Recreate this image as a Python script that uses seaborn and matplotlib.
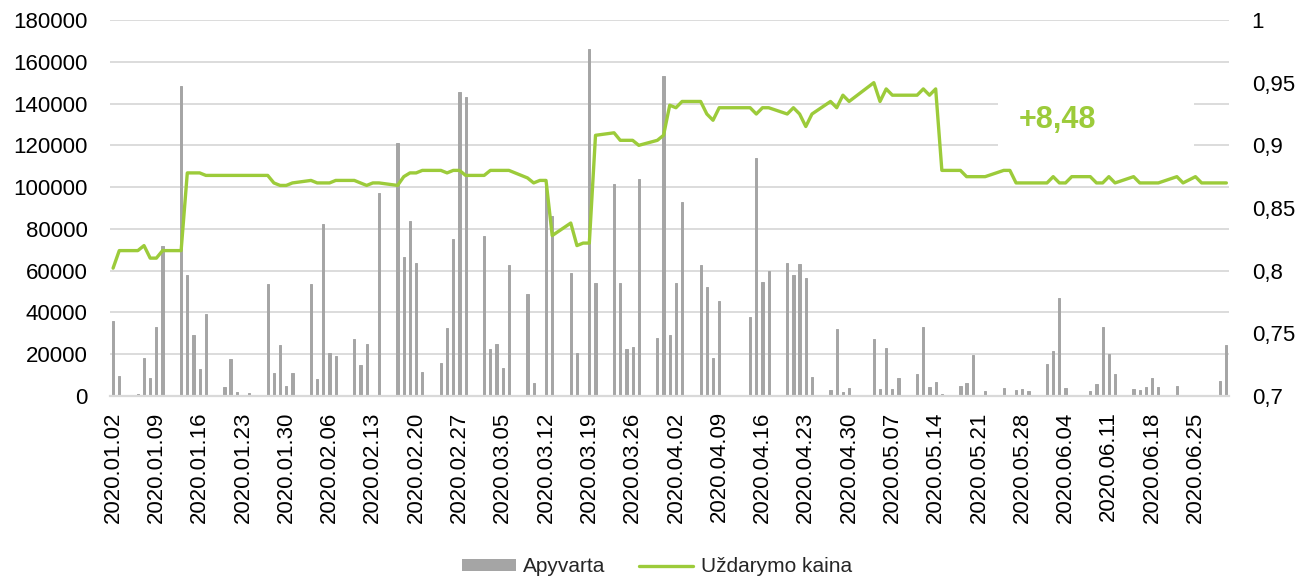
import numpy as np
import pandas as pd
import seaborn as sns
import matplotlib
matplotlib.use('Agg')
import matplotlib.pyplot as plt
import matplotlib.dates as mdates
from matplotlib.patches import Patch, Rectangle
from matplotlib.lines import Line2D
from matplotlib.ticker import FuncFormatter

# trading days: weekdays Jan 2 - Jun 30 2020 without exchange holidays
holidays = ['2020-04-10', '2020-04-13', '2020-05-01', '2020-06-24']
dates = pd.bdate_range('2020-01-02', '2020-06-30').drop(pd.to_datetime(holidays))

# Apyvarta (turnover), by month
vol_jan = [35700, 9800, 1000, 18100, 8400, 33000, 72000,
           148200, 57700, 29000, 12700, 39200,
           4500, 17600, 2100, 0, 1500,
           53400, 11200, 24600, 4900, 11100]
vol_feb = [53700, 7900, 82400, 20700, 19200,
           27400, 14900, 25000, 500, 97400,
           121200, 66400, 83700, 63800, 11700,
           15900, 32600, 75000, 145300, 143000]
vol_mar = [76500, 22700, 25000, 13500, 62500,
           48700, 6300, 0, 100500, 86400,
           58800, 20500, 0, 166200, 54200,
           101600, 54200, 22600, 23400, 104100,
           28000, 153400]
vol_apr = [29300, 54200, 93000,
           62500, 52400, 18000, 45400,
           37700, 113800, 54600, 60000,
           63600, 57700, 63000, 56700, 9300,
           3000, 32300, 1800, 3600]
vol_may = [27400, 3400, 23200, 3300, 8700,
           10600, 32800, 4500, 6600, 1000,
           5000, 6000, 19500, 0, 2600,
           3600, 600, 3000, 3400, 2600]
vol_jun = [15200, 21500, 46800, 3600, 0,
           2500, 5500, 33000, 19900, 10600,
           3400, 3000, 4500, 8700, 4400,
           4900, 0, 300, 500,
           7100, 24500]

# Uždarymo kaina (close price), by month
px_jan = [0.802, 0.816, 0.816, 0.820, 0.810, 0.810, 0.816,
          0.816, 0.878, 0.878, 0.878, 0.876,
          0.876, 0.876, 0.876, 0.876, 0.876,
          0.876, 0.870, 0.868, 0.868, 0.870]
px_feb = [0.872, 0.870, 0.870, 0.870, 0.872,
          0.872, 0.870, 0.868, 0.870, 0.870,
          0.868, 0.875, 0.878, 0.878, 0.880,
          0.880, 0.878, 0.880, 0.880, 0.876]
px_mar = [0.876, 0.880, 0.880, 0.880, 0.880,
          0.874, 0.870, 0.872, 0.872, 0.828,
          0.838, 0.820, 0.822, 0.822, 0.908,
          0.910, 0.904, 0.904, 0.904, 0.900,
          0.904, 0.908]
px_apr = [0.932, 0.930, 0.935,
          0.935, 0.925, 0.920, 0.930,
          0.930, 0.925, 0.930, 0.930,
          0.925, 0.930, 0.925, 0.915, 0.925,
          0.935, 0.930, 0.940, 0.935]
px_may = [0.950, 0.935, 0.945, 0.940, 0.940,
          0.940, 0.945, 0.940, 0.945, 0.880,
          0.880, 0.875, 0.875, 0.875, 0.875,
          0.880, 0.880, 0.870, 0.870, 0.870]
px_jun = [0.870, 0.875, 0.870, 0.870, 0.875,
          0.875, 0.870, 0.870, 0.875, 0.870,
          0.875, 0.870, 0.870, 0.870, 0.870,
          0.875, 0.870, 0.875, 0.870,
          0.870, 0.870]

change_label = '+8,48'

volume = vol_jan + vol_feb + vol_mar + vol_apr + vol_may + vol_jun
price = px_jan + px_feb + px_mar + px_apr + px_may + px_jun
assert len(volume) == len(price) == len(dates)

df = pd.DataFrame({'day': mdates.date2num(dates), 'Apyvarta': volume, 'Uždarymo kaina': price})

BAR = '#A5A5A5'
GREEN = '#9CCB3A'
GRID = '#D9D9D9'

sns.set_theme(style='white')
plt.rcParams['font.family'] = ['Liberation Sans', 'DejaVu Sans']

fig, ax = plt.subplots(figsize=(13.11, 5.78), dpi=100)
fig.subplots_adjust(left=0.0839, right=0.9378, top=0.9654, bottom=0.3149)

sns.barplot(data=df, x='day', y='Apyvarta', native_scale=True, width=0.36,
            color=BAR, saturation=1, errorbar=None, ax=ax,
            edgecolor=BAR, linewidth=0.7)

ax2 = ax.twinx()
sns.lineplot(data=df, x='day', y='Uždarymo kaina', color=GREEN, linewidth=2.4, ax=ax2, zorder=3)

# x axis: weekly date ticks
ax.set_xlim(df['day'].iloc[0] - 0.5, df['day'].iloc[-1] + 0.5)
ticks = pd.date_range('2020-01-02', '2020-06-30', freq='7D')
ax.set_xticks(mdates.date2num(ticks))
ax.set_xticklabels([t.strftime('%Y.%m.%d') for t in ticks], rotation=90)

ax.set_ylim(0, 180000)
ax.set_yticks(np.arange(0, 180001, 20000))
ax.yaxis.set_major_formatter(FuncFormatter(lambda v, p: '%d' % v))
ax2.set_ylim(0.7, 1.0)
ax2.set_yticks(np.arange(0.7, 1.0001, 0.05))
ax2.yaxis.set_major_formatter(FuncFormatter(lambda v, p: ('%g' % round(v, 2)).replace('.', ',')))

ax.set_xlabel('')
ax.set_ylabel('')
ax2.set_ylabel('')

ax.yaxis.grid(True, color=GRID, linewidth=1.3)
ax.set_axisbelow(True)
for s in ax.spines.values():
    s.set_visible(False)
for s in ax2.spines.values():
    s.set_visible(False)
ax.spines['bottom'].set_visible(True)
ax.spines['bottom'].set_color(GRID)
ax.spines['bottom'].set_linewidth(1.6)

ax.tick_params(axis='y', length=0, pad=16, labelsize=16, colors='black')
ax.tick_params(axis='x', length=0, pad=11, labelsize=16, colors='black')
ax2.tick_params(axis='y', length=0, pad=16, labelsize=16, colors='black')

# change annotation on white box
ax2.add_patch(Rectangle((0.793, 0.614), 0.175, 0.226, transform=ax2.transAxes,
                        facecolor='white', edgecolor='none', zorder=1))
ax2.text(0.812, 0.734, change_label, transform=ax2.transAxes, ha='left', va='center',
         fontsize=22, fontweight='bold', color=GREEN, zorder=4)

handles = [Patch(facecolor=BAR, edgecolor='none'), Line2D([], [], color=GREEN, linewidth=2.4)]
fig.legend(handles, ['Apyvarta', 'Uždarymo kaina'], loc='center', bbox_to_anchor=(0.501, 1 - 567 / 578),
           ncol=2, frameon=False, fontsize=15, handlelength=2.6, handleheight=0.5,
           handletextpad=0.35, columnspacing=1.6)

fig.savefig('out.png', dpi=100)
